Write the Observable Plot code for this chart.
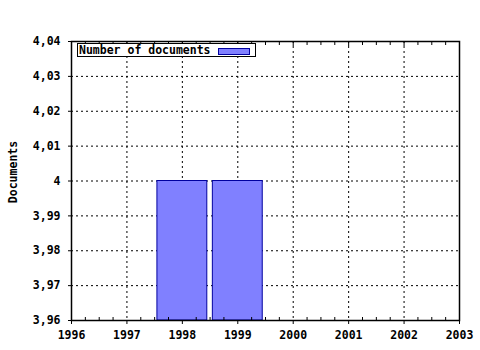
<!DOCTYPE html>
<html>
<head>
<meta charset="utf-8">
<script src="https://cdn.jsdelivr.net/npm/d3@7"></script>
<script src="https://cdn.jsdelivr.net/npm/@observablehq/plot@0.6"></script>
<style>
  html, body { margin: 0; padding: 0; background: #fff; }
  #wrap { position: relative; width: 480px; height: 350px; }
  #legend {
    position: absolute; left: 77px; top: 43px; width: 177px; height: 12px;
    border: 1px solid #000; background: #fff;
    font: bold 11.5px "DejaVu Sans Mono", monospace; line-height: 12px;
  }
  #legend span.t { position: absolute; left: 1px; top: 0; }
  #legend span.s { position: absolute; left: 140px; top: 4px; width: 30px; height: 5px;
    background: #8080ff; border: 1px solid #0000a0; }
  #ylab {
    position: absolute; left: 13px; top: 172px;
    transform: translate(-50%, -50%) rotate(-90deg);
    font: bold 11.5px "DejaVu Sans Mono", monospace; white-space: nowrap;
  }
</style>
</head>
<body>
<div id="wrap"></div>
<script>
const years = [1998, 1999];
const documents = [4, 4];
const xTicks = [1996, 1997, 1998, 1999, 2000, 2001, 2002, 2003];
const yTicks = [3.96, 3.97, 3.98, 3.99, 4, 4.01, 4.02, 4.03, 4.04];
const seriesName = "Number of documents";
const yLabel = "Documents";

const data = years.map((y, i) => ({year: y, value: documents[i]}));
const xMinor = d3.range(xTicks[0], xTicks[xTicks.length - 1], 0.25).filter(v => !xTicks.includes(v));
const fmt = d => String(+d.toFixed(2)).replace(".", ",");

const chart = Plot.plot({
  width: 480,
  height: 350,
  marginLeft: 71,
  marginRight: 21,
  marginTop: 41,
  marginBottom: 30,
  style: {fontFamily: '"DejaVu Sans Mono", monospace', fontSize: "11.5px", fontWeight: "bold", background: "#fff", color: "#000"},
  x: {domain: [xTicks[0], xTicks[xTicks.length - 1]]},
  y: {domain: [yTicks[0], yTicks[yTicks.length - 1]]},
  marks: [
    Plot.gridX(xTicks.slice(1, -1), {stroke: "#000", strokeOpacity: 1, strokeDasharray: "2,3"}),
    Plot.gridY(yTicks.slice(1, -1), {stroke: "#000", strokeOpacity: 1, strokeDasharray: "2,3"}),
    Plot.rect(data, {
      x1: d => d.year - 0.45,
      x2: d => d.year + 0.45,
      y1: yTicks[0],
      y2: "value",
      fill: "#8080ff",
      stroke: "#0000a0",
      strokeWidth: 1
    }),
    Plot.axisX({anchor: "bottom", ticks: xTicks, tickSize: 4, tickPadding: 6, tickFormat: d => String(d), label: null}),
    Plot.axisX({anchor: "bottom", ticks: xMinor, tickSize: -3, tickFormat: () => "", label: null}),
    Plot.axisX({anchor: "top", ticks: xTicks, tickSize: -4, tickFormat: () => "", label: null}),
    Plot.axisX({anchor: "top", ticks: xMinor, tickSize: -3, tickFormat: () => "", label: null}),
    Plot.axisY({anchor: "left", ticks: yTicks, tickSize: 3, tickPadding: 8, tickFormat: fmt, label: null}),
    Plot.frame({stroke: "#000", strokeWidth: 1.5})
  ]
});

const wrap = document.getElementById("wrap");
wrap.appendChild(chart);
const legend = document.createElement("div");
legend.id = "legend";
legend.innerHTML = `<span class="t">${seriesName}</span><span class="s"></span>`;
wrap.appendChild(legend);
const yl = document.createElement("div");
yl.id = "ylab";
yl.textContent = yLabel;
wrap.appendChild(yl);
</script>
</body>
</html>
